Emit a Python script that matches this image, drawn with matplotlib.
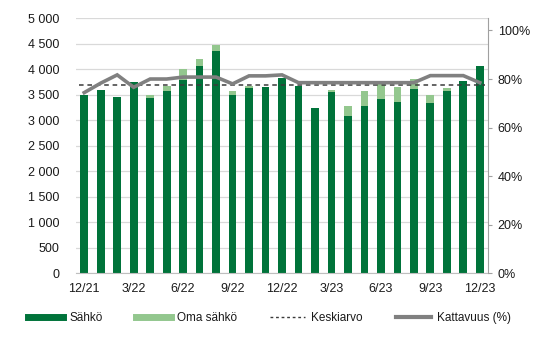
import matplotlib
matplotlib.use('Agg')
import matplotlib.pyplot as plt
from matplotlib.lines import Line2D
from matplotlib.ticker import FuncFormatter
import numpy as np

plt.rcParams['font.family'] = ['Liberation Sans', 'DejaVu Sans']

# Months 12/21 .. 12/23
months = ['12/21', '1/22', '2/22', '3/22', '4/22', '5/22', '6/22', '7/22', '8/22',
          '9/22', '10/22', '11/22', '12/22', '1/23', '2/23', '3/23', '4/23', '5/23',
          '6/23', '7/23', '8/23', '9/23', '10/23', '11/23', '12/23']
sahko = [3500, 3590, 3460, 3760, 3430, 3575, 3790, 4065, 4360, 3500, 3630, 3645,
         3820, 3670, 3235, 3550, 3085, 3280, 3420, 3360, 3615, 3345, 3575, 3770, 4065]
oma_sahko = [0, 0, 0, 0, 70, 105, 215, 135, 115, 65, 45, 0,
             0, 0, 0, 45, 200, 300, 355, 290, 190, 150, 50, 0, 0]
kattavuus = [74.4, 78.3, 81.7, 76.6, 80.0, 80.0, 80.8, 80.8, 80.8, 78.0, 81.3, 81.3,
             81.7, 78.5, 78.5, 78.5, 78.5, 78.5, 78.5, 78.5, 78.5, 81.4, 81.4, 81.4, 78.5]
keskiarvo = 3690
tick_labels = ['12/21', '3/22', '6/22', '9/22', '12/22', '3/23', '6/23', '9/23', '12/23']

dark_green = '#00733a'
light_green = '#93c78e'
line_grey = '#808080'
text_col = '#1a1a1a'

fig = plt.figure(figsize=(5.37, 3.41), dpi=100)
ax = fig.add_axes([0.1415, 0.1985, 0.7673, 0.7478])

x = np.arange(len(months))
ax.bar(x, sahko, width=0.47, color=dark_green, zorder=2)
ax.bar(x, oma_sahko, width=0.47, bottom=sahko, color=light_green, zorder=2)
ax.plot([-0.3, len(months) - 0.7], [keskiarvo, keskiarvo], ls=(0, (3, 2.5)),
        color='#3a3a3a', lw=1.1, zorder=3)

ax.set_xlim(-0.5, len(months) - 0.5)
ax.set_ylim(0, 5000)
ax.set_yticks(np.arange(0, 5001, 500))
ax.yaxis.set_major_formatter(FuncFormatter(lambda v, p: f'{int(v):,}'.replace(',', ' ')))
ax.grid(axis='y', color='#d9d9d9', lw=0.9, zorder=0)
ax.set_axisbelow(True)
ax.set_xticks(x[::3])
ax.set_xticklabels(tick_labels)
ax.tick_params(axis='both', length=0, labelsize=9, colors=text_col, pad=7)
ax.tick_params(axis='y', pad=12)
for s in ['top', 'left', 'right']:
    ax.spines[s].set_visible(False)
ax.spines['bottom'].set_color('#bfbfbf')

ax2 = ax.twinx()
ax2.plot(x, kattavuus, color=line_grey, lw=2.6, zorder=4, solid_joinstyle='miter')
ax2.set_ylim(0, 105)
ax2.set_yticks(np.arange(0, 101, 20))
ax2.yaxis.set_major_formatter(FuncFormatter(lambda v, p: f'{int(v)}%'))
ax2.tick_params(axis='y', length=3, color='#a0a0a0', labelsize=9, labelcolor=text_col, pad=4)
for s in ['top', 'left', 'bottom']:
    ax2.spines[s].set_visible(False)
ax2.spines['right'].set_color('#a0a0a0')

handles = [
    Line2D([], [], color=dark_green, lw=5),
    Line2D([], [], color=light_green, lw=5),
    Line2D([], [], color='#3a3a3a', lw=1, ls=(0, (2, 2))),
    Line2D([], [], color=line_grey, lw=3),
]
labels = ['Sähkö', 'Oma sähkö', 'Keskiarvo', 'Kattavuus (%)']
fig.legend(handles, labels, loc='center', bbox_to_anchor=(0.502, 0.067), ncol=4,
           frameon=False, fontsize=8.5, handlelength=3.0, handletextpad=0.5,
           columnspacing=2.8, labelcolor=text_col)

fig.savefig('out.png', dpi=100)
